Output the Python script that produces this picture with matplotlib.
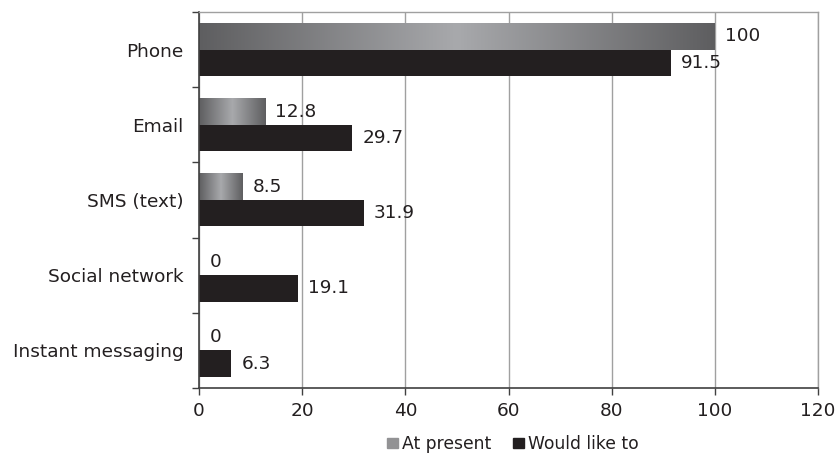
import numpy as np
import matplotlib
matplotlib.use("Agg")
import matplotlib.pyplot as plt
from matplotlib.patches import Rectangle
from matplotlib.colors import LinearSegmentedColormap

categories = ["Phone", "Email", "SMS (text)", "Social network", "Instant messaging"]
at_present = [100, 12.8, 8.5, 0, 0]
would_like = [91.5, 29.7, 31.9, 19.1, 6.3]
series_names = ["At present", "Would like to"]

plt.rcParams['font.family'] = ['DejaVu Sans']
text_col = "#231f20"
dark = "#231f20"
fs = 13.3
grad = LinearSegmentedColormap.from_list("g", ["#5e5e60", "#a8a9ac", "#5e5e60"])

fig = plt.figure(figsize=(8.35, 4.53), dpi=100)
ax = fig.add_axes([199 / 835, 1 - 388 / 453, (818 - 199) / 835, (388 - 12) / 453])

n = len(categories)
ys = np.arange(n)[::-1]  # Phone at top
h = 0.35
gradient = np.linspace(0, 1, 256).reshape(1, -1)

for y, v in zip(ys, at_present):
    if v > 0:
        ax.imshow(gradient, cmap=grad, aspect="auto",
                  extent=(0, v, y, y + h), zorder=2)
    ax.text(v + 2.0, y + h / 2, f"{v:g}", va="center", ha="left",
            fontsize=fs, color=text_col, zorder=4)

ax.barh(ys - h / 2, would_like, height=h, color=dark, zorder=2)
for y, v in zip(ys, would_like):
    ax.text(v + 2.0, y - h / 2, f"{v:g}", va="center", ha="left",
            fontsize=fs, color=text_col, zorder=4)

ax.set_xlim(0, 120)
ax.set_ylim(-0.5, n - 0.5)
ax.set_xticks(np.arange(0, 121, 20))
ax.set_xticklabels([str(t) for t in range(0, 121, 20)], fontsize=fs, color=text_col)
ax.set_yticks(ys)
ax.set_yticklabels(categories, fontsize=fs, color=text_col)
ax.set_yticks(np.arange(-0.5, n, 1), minor=True)
ax.tick_params(axis="y", which="major", length=0, pad=11)
ax.tick_params(axis="y", which="minor", length=5, width=1, color="#404040")
ax.tick_params(axis="x", length=5, width=1, color="#404040", pad=5)
ax.grid(axis="x", color="#a0a0a0", linewidth=1, zorder=0)
ax.set_axisbelow(True)

for s in ["left", "bottom"]:
    ax.spines[s].set_color("#404040")
    ax.spines[s].set_linewidth(1.2)
for s in ["top", "right"]:
    ax.spines[s].set_color("#a0a0a0")
    ax.spines[s].set_linewidth(1)

handles = [Rectangle((0, 0), 1, 1, color="#929294"), Rectangle((0, 0), 1, 1, color=dark)]
fig.legend(handles, series_names, loc="center", bbox_to_anchor=(513 / 835, 1 - 444 / 453),
           ncol=2, frameon=False, fontsize=12.3, handlelength=0.6, handleheight=0.6,
           handletextpad=0.25, columnspacing=1.3, labelcolor=text_col)

fig.savefig("out.png", dpi=100)
